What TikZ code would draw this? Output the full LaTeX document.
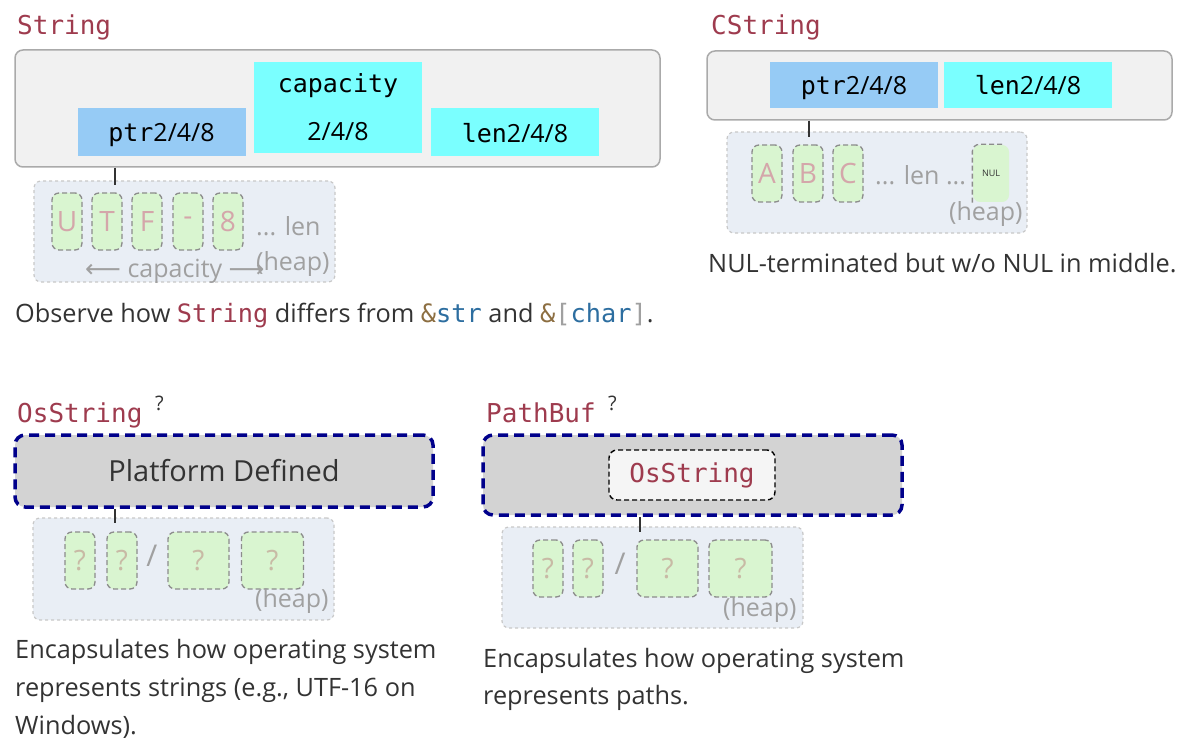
\documentclass[tikz,border=0pt]{standalone}
\usepackage{fontspec}
\setmainfont{Open Sans}
\newfontfamily\codefont{DejaVu Sans Mono}
\newfontfamily\symfont{DejaVu Sans}
\usetikzlibrary{positioning}

\definecolor{rustred}{RGB}{158,59,78}
\definecolor{ptrblue}{RGB}{150,203,245}
\definecolor{sizecyan}{RGB}{122,255,255}
\definecolor{framefill}{RGB}{241,241,241}
\definecolor{frameline}{RGB}{170,170,170}
\definecolor{heapfill}{RGB}{233,238,245}
\definecolor{heapline}{RGB}{200,200,200}
\definecolor{cellfill}{RGB}{217,245,208}
\definecolor{cellline}{RGB}{140,140,140}
\definecolor{letterpink}{RGB}{212,166,170}
\definecolor{querytan}{RGB}{200,186,165}
\definecolor{faintgray}{RGB}{160,160,160}
\definecolor{inkgray}{RGB}{51,51,51}
\definecolor{refbrown}{RGB}{140,110,65}
\definecolor{refblue}{RGB}{45,110,160}
\definecolor{navyline}{RGB}{0,0,139}
\definecolor{platfill}{RGB}{211,211,211}
\definecolor{innerfill}{RGB}{245,245,245}

\newcommand{\tyname}[1]{{\codefont\color{rustred}#1}}
\newcommand{\refamp}{{\codefont\color{refbrown}\&}}
\newcommand{\refty}[1]{{\codefont\color{refblue}#1}}
\newcommand{\refbrk}[1]{{\codefont\color{faintgray}#1}}

\tikzset{
  typename/.style={anchor=base west, inner sep=0pt, text=rustred,
    font=\fontsize{26}{30}\selectfont\codefont},
  query/.style={anchor=base west, inner sep=0pt, text=inkgray,
    font=\fontsize{20}{22}\selectfont},
  frame/.style={draw=frameline, line width=1.5pt, fill=framefill,
    rounded corners=8pt, inner sep=0pt},
  field/.style={inner sep=0pt, minimum width=168pt, minimum height=48pt,
    text=black, text depth=0pt, font=\fontsize{25}{30}\selectfont},
  heap/.style={draw=heapline, dashed, line width=1.2pt, fill=heapfill,
    rounded corners=7pt, inner sep=0pt},
  cell/.style={draw=cellline, dash pattern=on 5pt off 3pt, line width=1.3pt,
    fill=cellfill, rounded corners=7pt, inner sep=0pt, minimum width=30pt,
    minimum height=57pt, text=letterpink, font=\fontsize{28}{30}\selectfont},
  qcell/.style={cell, text=querytan, font=\fontsize{28}{30}\selectfont},
  faint/.style={anchor=base west, inner sep=0pt, text=faintgray,
    font=\fontsize{25}{30}\selectfont},
  body/.style={anchor=base west, inner sep=0pt, text=inkgray,
    font=\fontsize{25.3}{30}\selectfont},
  platform/.style={draw=navyline, line width=3.5pt, dash pattern=on 10pt off 6pt,
    fill=platfill, rounded corners=10pt, inner sep=0pt},
  innerbox/.style={draw=black, line width=1.4pt, dash pattern=on 5pt off 3pt,
    fill=innerfill, rounded corners=8pt, inner sep=0pt, text=rustred,
    font=\fontsize{26}{30}\selectfont\codefont},
  link/.style={draw=inkgray, line width=1.2pt},
}

\begin{document}
\begin{tikzpicture}[x=1pt, y=-1pt]
  \useasboundingbox (0,0) rectangle (1180,746);

  % String
  \node[typename] (strtitle) at (17,35) {String};
  \node[frame, minimum width=645pt, minimum height=117pt] (strframe) at (337.5,108.5) {};
  \node[field, fill=ptrblue] (strptr) at (161.5,132.5) {{\codefont ptr}2/4/8};
  \node[field, fill=sizecyan, minimum height=91pt, align=center] (strcap) at (338,107.5)
    {{\codefont capacity}\\[18pt]2/4/8};
  \node[field, fill=sizecyan] (strlen) at (515,132.5) {{\codefont len}2/4/8};
  \node[heap, minimum width=301pt, minimum height=101pt] (strheap) at (184.5,231.5) {};
  \foreach \c/\x [count=\i] in {U/67, T/107, F/147, -/188, 8/228}
    \node[cell] (strcell\i) at (\x,221.5) {\c};
  \node[faint] (strdots) at (256,235) {... len};
  \node[faint] (strcapnote) at (85,277) {{\symfont ⟵} capacity {\symfont ⟶}};
  \node[faint] (strheapnote) at (256,270) {(heap)};
  \coordinate (strtip) at (115,185);
  \draw[link] (strframe.south -| strtip) -- (strtip);
  \node[body] (strnote) at (15,322)
    {Observe how \tyname{String} differs from \refamp\refty{str} and \refamp\refbrk{[}\refty{char}\refbrk{]}.};

  % CString
  \node[typename] (ctitle) at (711,35) {CString};
  \node[frame, minimum width=465pt, minimum height=69pt] (cframe) at (939.5,85.5) {};
  \node[field, fill=ptrblue, minimum height=46pt] (cptr) at (854,85) {{\codefont ptr}2/4/8};
  \node[field, fill=sizecyan, minimum height=46pt] (clen) at (1028,85) {{\codefont len}2/4/8};
  \node[heap, minimum width=300pt, minimum height=101pt] (cheap) at (877,182.5) {};
  \foreach \c/\x [count=\i] in {A/767, B/808, C/848}
    \node[cell] (ccell\i) at (\x,173.5) {\c};
  \node[cell, draw=none, minimum width=36pt, text=inkgray,
    font=\fontsize{9}{10}\selectfont] (cnul) at (991,173.5) {NUL};
  \draw[cellline, dash pattern=on 5pt off 3pt, line width=1.3pt, rounded corners=7pt]
    (cnul.south west) -- (cnul.north west) -- ([xshift=-6pt]cnul.north east);
  \node[faint] (cdots) at (875,185) {... len ...};
  \node[faint] (cheapnote) at (949,220) {(heap)};
  \coordinate (ctip) at (809,137);
  \draw[link] (cframe.south -| ctip) -- (ctip);
  \node[body] (cnote) at (708,272) {NUL-terminated but w/o NUL in middle.};

  % OsString
  \node[typename] (ostitle) at (17,422) {OsString};
  \node[query] (osq) at (155,410) {?};
  \node[platform, minimum width=418pt, minimum height=72pt, text=inkgray,
    font=\fontsize{29}{32}\selectfont] (osframe) at (224,471) {Platform Defined};
  \node[heap, minimum width=301pt, minimum height=102pt] (osheap) at (183.5,569) {};
  \node[qcell] (oscell1) at (80,560.5) {?};
  \node[qcell] (oscell2) at (122,560.5) {?};
  \node[faint, anchor=center, font=\fontsize{30}{30}\selectfont] (osslash) at (152,556) {/};
  \node[qcell, minimum width=61pt] (oscell3) at (198.5,560.5) {?};
  \node[qcell, minimum width=62pt] (oscell4) at (272.5,560.5) {?};
  \node[faint] (osheapnote) at (255,607) {(heap)};
  \coordinate (ostip) at (115,523);
  \draw[link] (osframe.south -| ostip) -- (ostip);
  \node[body] (osnote1) at (15,658) {Encapsulates how operating system};
  \node[body] (osnote2) at (15,696) {represents strings (e.g., UTF-16 on};
  \node[body] (osnote3) at (15,734) {Windows).};

  % PathBuf
  \node[typename] (pbtitle) at (486,422) {PathBuf};
  \node[query] (pbq) at (608,410) {?};
  \node[platform, minimum width=419pt, minimum height=80pt] (pbframe) at (692.5,475) {};
  \node[innerbox, minimum width=166pt, minimum height=50pt] (pbinner) at (692,475) {OsString};
  \node[heap, minimum width=301pt, minimum height=101pt] (pbheap) at (652.5,577.5) {};
  \node[qcell] (pbcell1) at (548,568.5) {?};
  \node[qcell] (pbcell2) at (588,568.5) {?};
  \node[faint, anchor=center, font=\fontsize{30}{30}\selectfont] (pbslash) at (620,564) {/};
  \node[qcell, minimum width=61pt] (pbcell3) at (667.5,568.5) {?};
  \node[qcell, minimum width=63pt] (pbcell4) at (740.5,568.5) {?};
  \node[faint] (pbheapnote) at (723,616) {(heap)};
  \coordinate (pbtip) at (640,532);
  \draw[link] (pbframe.south -| pbtip) -- (pbtip);
  \node[body] (pbnote1) at (483,667) {Encapsulates how operating system};
  \node[body] (pbnote2) at (483,704) {represents paths.};
\end{tikzpicture}
\end{document}
